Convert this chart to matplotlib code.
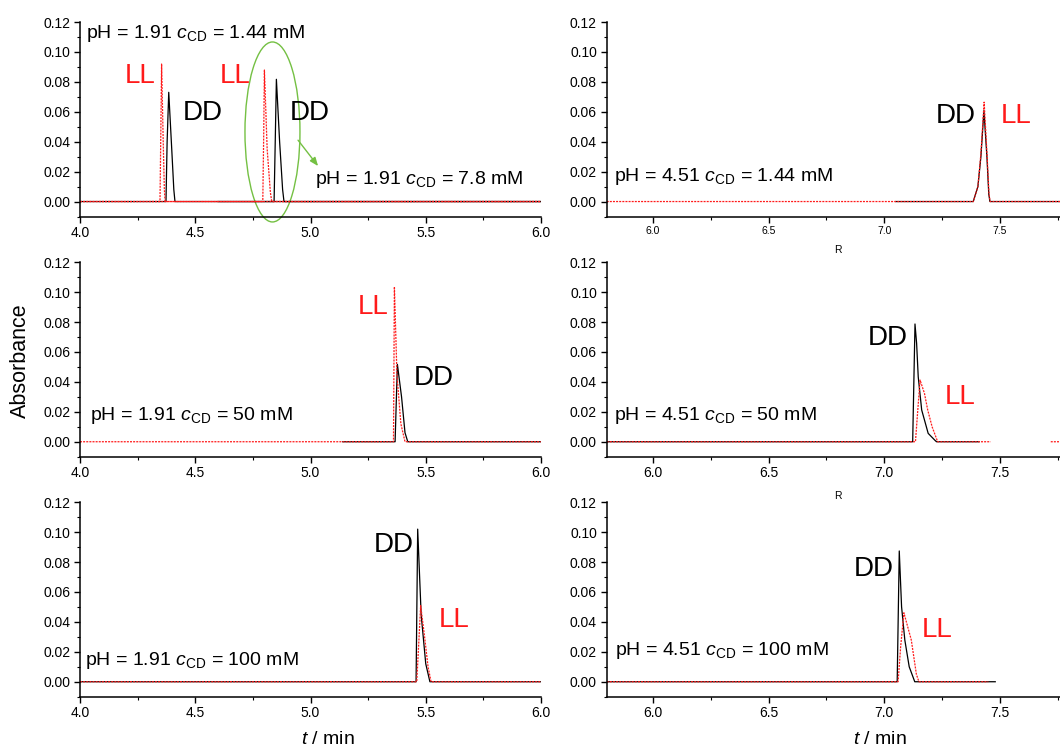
import numpy as np
import matplotlib
matplotlib.use("Agg")
import matplotlib.pyplot as plt
from matplotlib.patches import Ellipse
from matplotlib.ticker import MultipleLocator, FormatStrFormatter

plt.rcParams["font.family"] = ["Liberation Sans", "DejaVu Sans"]
plt.rcParams["mathtext.fontset"] = "custom"
plt.rcParams["mathtext.rm"] = "Liberation Sans"
plt.rcParams["mathtext.it"] = "Liberation Sans:italic"

# ---- electropherogram traces (time in min, absorbance) ----
# pH 1.91, cCD 1.44 mM
t_a_dd = [4.00, 4.373, 4.378, 4.385, 4.398, 4.407, 4.412, 6.00]
a_a_dd = [0.0, 0.0, 0.040, 0.073, 0.035, 0.008, 0.0, 0.0]
t_a_ll = [4.00, 4.347, 4.351, 4.354, 4.361, 4.366, 4.369, 6.00]
a_a_ll = [0.0, 0.0, 0.050, 0.0919, 0.040, 0.008, 0.0, 0.0]
# pH 1.91, cCD 7.8 mM
t_b_dd = [4.60, 4.842, 4.847, 4.852, 4.866, 4.879, 4.885, 6.00]
a_b_dd = [0.0, 0.0, 0.040, 0.0817, 0.040, 0.008, 0.0, 0.0]
t_b_ll = [4.00, 4.793, 4.797, 4.800, 4.812, 4.826, 4.832, 6.00]
a_b_ll = [0.0, 0.0, 0.045, 0.0879, 0.035, 0.006, 0.0, 0.0]
# pH 1.91, cCD 50 mM
t_c_dd = [5.14, 5.367, 5.377, 5.395, 5.410, 5.422, 6.00]
a_c_dd = [0.0, 0.0, 0.0517, 0.030, 0.006, 0.0, 0.0]
t_c_ll = [4.00, 5.360, 5.364, 5.375, 5.392, 5.410, 6.00]
a_c_ll = [0.0, 0.0, 0.1036, 0.045, 0.012, 0.0, 0.0]
# pH 1.91, cCD 100 mM
t_d_dd = [4.00, 5.458, 5.465, 5.480, 5.500, 5.518, 6.00]
a_d_dd = [0.0, 0.0, 0.102, 0.045, 0.012, 0.0, 0.0]
t_d_ll = [4.00, 5.461, 5.478, 5.495, 5.510, 5.523, 6.00]
a_d_ll = [0.0, 0.0, 0.0508, 0.030, 0.010, 0.0, 0.0]
# pH 4.51, cCD 1.44 mM
t_e_dd = [7.05, 7.385, 7.405, 7.418, 7.431, 7.444, 7.452, 7.457, 7.76]
a_e_dd = [0.0, 0.0, 0.010, 0.030, 0.0608, 0.030, 0.005, 0.0, 0.0]
t_e_ll = [5.80, 7.385, 7.405, 7.418, 7.432, 7.445, 7.453, 7.458, 7.76]
a_e_ll = [0.0, 0.0, 0.010, 0.032, 0.0664, 0.030, 0.005, 0.0, 0.0]
# pH 4.51, cCD 50 mM
t_f_dd = [5.80, 7.123, 7.133, 7.140, 7.147, 7.162, 7.190, 7.219, 7.226, 7.41]
a_f_dd = [0.0, 0.0, 0.0787, 0.0658, 0.0434, 0.0212, 0.0056, 0.001, 0.0, 0.0]
t_f_ll = [5.80, 7.135, 7.145, 7.155, 7.174, 7.188, 7.207, 7.231, 7.46, np.nan, 7.72, 7.76]
a_f_ll = [0.0, 0.0, 0.0210, 0.0412, 0.0323, 0.0212, 0.0100, 0.0, 0.0, np.nan, 0.0, 0.0]
# pH 4.51, cCD 100 mM
t_g_dd = [5.80, 7.056, 7.065, 7.075, 7.089, 7.108, 7.132, 7.48]
a_g_dd = [0.0, 0.0, 0.0874, 0.0501, 0.0279, 0.0100, 0.0, 0.0]
t_g_ll = [5.80, 7.060, 7.071, 7.085, 7.117, 7.139, 7.150, 7.45]
a_g_ll = [0.0, 0.0, 0.0234, 0.0461, 0.0279, 0.0050, 0.0, 0.0]

conditions = ["pH = 1.91 $c$$_{\\mathrm{CD}}$ = 1.44 mM",
              "pH = 1.91 $c$$_{\\mathrm{CD}}$ = 50 mM",
              "pH = 1.91 $c$$_{\\mathrm{CD}}$ = 100 mM",
              "pH = 4.51 $c$$_{\\mathrm{CD}}$ = 1.44 mM",
              "pH = 4.51 $c$$_{\\mathrm{CD}}$ = 50 mM",
              "pH = 4.51 $c$$_{\\mathrm{CD}}$ = 100 mM"]
extra_condition = "pH = 1.91 $c$$_{\\mathrm{CD}}$ = 7.8 mM"

W, H = 1060, 749
fig = plt.figure(figsize=(W / 100, H / 100), dpi=100)

left_col = (80 / W, (541 - 80) / W, (4.0, 6.0))
right_col = (606.7 / W, (W - 606.7) / W, (5.8, 7.76))
row_bottoms = [1 - 216.5 / H, 1 - 456.7 / H, 1 - 696.7 / H]
row_h = 194.5 / H

RED = "#ff1a1a"
DD_KW = dict(color="black", lw=0.9)
LL_KW = dict(color=RED, lw=0.9, linestyle=(0, (1.6, 0.9)))


def make_axes(col, row, tick_size=10):
    x0, w, xl = col
    ax = fig.add_axes([x0, row_bottoms[row], w, row_h])
    ax.set_xlim(*xl)
    ax.set_ylim(-0.01, 0.12)
    for s in ("top", "right"):
        ax.spines[s].set_visible(False)
    for s in ("left", "bottom"):
        ax.spines[s].set_linewidth(1.1)
    ax.xaxis.set_major_locator(MultipleLocator(0.5))
    ax.xaxis.set_minor_locator(MultipleLocator(0.25))
    ax.yaxis.set_major_locator(MultipleLocator(0.02))
    ax.yaxis.set_minor_locator(MultipleLocator(0.01))
    ax.xaxis.set_major_formatter(FormatStrFormatter("%.1f"))
    ax.yaxis.set_major_formatter(FormatStrFormatter("%.2f"))
    ax.tick_params(which="major", length=4.5, width=1.0, labelsize=10, pad=2.5)
    ax.tick_params(axis="x", which="major", labelsize=tick_size)
    ax.tick_params(which="minor", length=2.5, width=0.8)
    return ax


def label(ax, x, y, txt, color, size=20):
    ax.text(x, y, txt, color=color, fontsize=size, ha="center", va="center")


def cond(ax, x, y, txt):
    ax.text(x, y, txt, fontsize=14, ha="left", va="center")


# pH 1.91, 1.44 mM and 7.8 mM
ax = make_axes(left_col, 0)
ax.plot(t_a_dd, a_a_dd, **DD_KW)
ax.plot(t_b_dd, a_b_dd, **DD_KW)
ax.plot(t_a_ll, a_a_ll, **LL_KW)
ax.plot(t_b_ll, a_b_ll, **LL_KW)
cond(ax, 4.026, 0.1126, conditions[0])
cond(ax, 5.020, 0.0144, extra_condition)
label(ax, 4.26, 0.0842, "LL", RED)
label(ax, 4.534, 0.0591, "DD", "black")
label(ax, 4.672, 0.0842, "LL", RED)
label(ax, 4.998, 0.0591, "DD", "black")
GREEN = "#74c043"
ax.add_patch(Ellipse((4.835, 0.0465), 0.2386, 0.1203, fill=False,
                     edgecolor=GREEN, lw=1.0, clip_on=False))
ax.annotate("", xy=(5.033, 0.0237), xytext=(4.946, 0.041),
            arrowprops=dict(arrowstyle="-|>,head_length=0.5,head_width=0.2",
                            color=GREEN, lw=1.0, shrinkA=0, shrinkB=0),
            annotation_clip=False)

# pH 1.91, 50 mM
ax = make_axes(left_col, 1)
ax.plot(t_c_dd, a_c_dd, **DD_KW)
ax.plot(t_c_ll, a_c_ll, **LL_KW)
cond(ax, 4.043, 0.0178, conditions[1])
label(ax, 5.271, 0.090, "LL", RED)
label(ax, 5.536, 0.0426, "DD", "black")

# pH 1.91, 100 mM
ax = make_axes(left_col, 2)
ax.plot(t_d_dd, a_d_dd, **DD_KW)
ax.plot(t_d_ll, a_d_ll, **LL_KW)
cond(ax, 4.022, 0.0145, conditions[2])
label(ax, 5.362, 0.0914, "DD", "black")
label(ax, 5.623, 0.0412, "LL", RED)

# pH 4.51, 1.44 mM
ax = make_axes(right_col, 0, tick_size=7.5)
ax.plot(t_e_dd, a_e_dd, **DD_KW)
ax.plot(t_e_ll, a_e_ll, **LL_KW)
cond(ax, 5.831, 0.0167, conditions[3])
label(ax, 7.31, 0.0575, "DD", "black")
label(ax, 7.569, 0.0575, "LL", RED)

# pH 4.51, 50 mM
ax = make_axes(right_col, 1)
ax.plot(t_f_dd, a_f_dd, **DD_KW)
ax.plot(t_f_ll, a_f_ll, **LL_KW)
cond(ax, 5.831, 0.0178, conditions[4])
label(ax, 7.016, 0.0693, "DD", "black")
label(ax, 7.327, 0.0299, "LL", RED)

# pH 4.51, 100 mM
ax = make_axes(right_col, 2)
ax.plot(t_g_dd, a_g_dd, **DD_KW)
ax.plot(t_g_ll, a_g_ll, **LL_KW)
cond(ax, 5.836, 0.0212, conditions[5])
label(ax, 6.955, 0.0753, "DD", "black")
label(ax, 7.228, 0.0346, "LL", RED)

# axis titles
fig.text(0.0189, 0.519, "Absorbance", rotation=90, fontsize=15.5,
         ha="center", va="center")
fig.text(0.309, 0.0130, "$t$ / min", fontsize=14, ha="center", va="center")
fig.text(0.830, 0.0130, "$t$ / min", fontsize=14, ha="center", va="center")
fig.text(838 / W, 1 - 250 / H, "R", fontsize=7.5, ha="center", va="center")
fig.text(838 / W, 1 - 496 / H, "R", fontsize=7.5, ha="center", va="center")

fig.savefig("out.png", dpi=100)
